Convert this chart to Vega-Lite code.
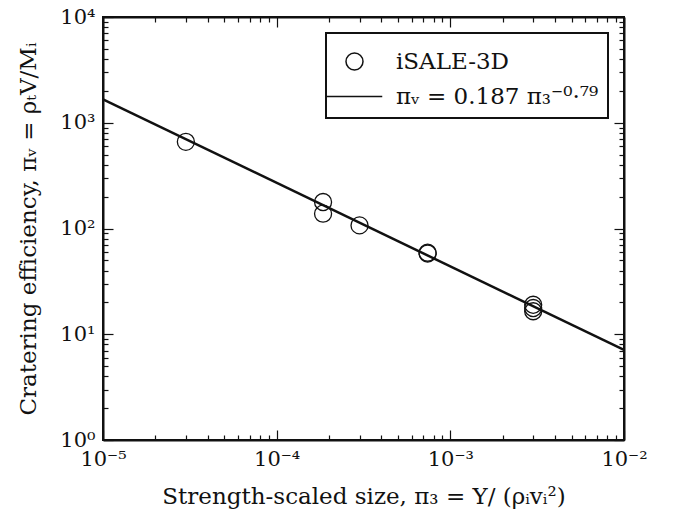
{
  "$schema": "https://vega.github.io/schema/vega-lite/v6.json",
  "width": 521,
  "height": 423,
  "autosize": "none",
  "padding": {"left": 103, "top": 17, "right": 49, "bottom": 80},
  "background": "white",
  "config": {
    "font": "DejaVu Serif",
    "view": {"stroke": "#111", "strokeWidth": 2},
    "legend": {"strokeWidth": 2, "strokeColor": "#111", "fillColor": "white", "cornerRadius": 0},
    "axis": {
      "domainColor": "#111", "domainWidth": 2, "tickColor": "#111", "tickWidth": 1.2,
      "labelFont": "DejaVu Serif", "labelFontSize": 21, "labelColor": "#111",
      "titleFont": "DejaVu Serif", "titleFontSize": 23, "titleFontWeight": "normal", "titleColor": "#111",
      "grid": false
    }
  },
  "datasets": {
    "pts": [
      {"x": 3e-5, "y": 660, "series": "iSALE-3D"},
      {"x": 1.85e-4, "y": 178, "series": "iSALE-3D"},
      {"x": 1.85e-4, "y": 138, "series": "iSALE-3D"},
      {"x": 3e-4, "y": 107, "series": "iSALE-3D"},
      {"x": 7.4e-4, "y": 59, "series": "iSALE-3D"},
      {"x": 7.4e-4, "y": 58, "series": "iSALE-3D"},
      {"x": 3e-3, "y": 19, "series": "iSALE-3D"},
      {"x": 3e-3, "y": 17.7, "series": "iSALE-3D"},
      {"x": 3e-3, "y": 16.5, "series": "iSALE-3D"}
    ],
    "fit": [
      {"x": 1e-5, "y": 1667, "series": "πᵥ = 0.187 π₃⁻⁰·⁷⁹"},
      {"x": 1e-2, "y": 7.11, "series": "πᵥ = 0.187 π₃⁻⁰·⁷⁹"}
    ]
  },
  "resolve": {"axis": {"x": "independent", "y": "independent"}},
  "layer": [
    {
      "data": {"name": "pts"},
      "mark": {"type": "point", "opacity": 0},
      "encoding": {
        "x": {"field": "x", "type": "quantitative",
          "scale": {"type": "log", "domain": [1e-5, 1e-2], "nice": false},
          "axis": {"orient": "bottom", "title": null, "labels": false, "domain": false, "tickSize": -5,
            "values": [2e-5,3e-5,4e-5,5e-5,6e-5,7e-5,8e-5,9e-5,2e-4,3e-4,4e-4,5e-4,6e-4,7e-4,8e-4,9e-4,2e-3,3e-3,4e-3,5e-3,6e-3,7e-3,8e-3,9e-3]}},
        "y": {"field": "y", "type": "quantitative",
          "scale": {"type": "log", "domain": [1, 10000], "nice": false},
          "axis": {"orient": "left", "title": null, "labels": false, "domain": false, "tickSize": -5,
            "values": [2,3,4,5,6,7,8,9,20,30,40,50,60,70,80,90,200,300,400,500,600,700,800,900,2000,3000,4000,5000,6000,7000,8000,9000]}}
      }
    },
    {
      "data": {"name": "pts"},
      "mark": {"type": "point", "opacity": 0},
      "encoding": {
        "x": {"field": "x", "type": "quantitative",
          "scale": {"type": "log", "domain": [1e-5, 1e-2], "nice": false},
          "axis": {"orient": "top", "title": null, "labels": false, "domain": false, "tickSize": -5,
            "values": [2e-5,3e-5,4e-5,5e-5,6e-5,7e-5,8e-5,9e-5,2e-4,3e-4,4e-4,5e-4,6e-4,7e-4,8e-4,9e-4,2e-3,3e-3,4e-3,5e-3,6e-3,7e-3,8e-3,9e-3]}},
        "y": {"field": "y", "type": "quantitative",
          "scale": {"type": "log", "domain": [1, 10000], "nice": false},
          "axis": {"orient": "right", "title": null, "labels": false, "domain": false, "tickSize": -5,
            "values": [2,3,4,5,6,7,8,9,20,30,40,50,60,70,80,90,200,300,400,500,600,700,800,900,2000,3000,4000,5000,6000,7000,8000,9000]}}
      }
    },
    {
      "data": {"name": "fit"},
      "mark": {"type": "line", "color": "#111", "strokeWidth": 2.5, "clip": true},
      "encoding": {
        "x": {"field": "x", "type": "quantitative",
          "scale": {"type": "log", "domain": [1e-5, 1e-2], "nice": false},
          "axis": {"orient": "top", "title": null, "labels": false, "tickSize": -10,
            "values": [1e-5, 1e-4, 1e-3, 1e-2]}},
        "y": {"field": "y", "type": "quantitative",
          "scale": {"type": "log", "domain": [1, 10000], "nice": false},
          "axis": {"orient": "right", "title": null, "labels": false, "tickSize": -10,
            "values": [1, 10, 100, 1000, 10000]}}
      }
    },
    {
      "data": {"name": "pts"},
      "mark": {"type": "point", "filled": false, "stroke": "#111", "strokeWidth": 1.3, "size": 1369, "opacity": 1},
      "encoding": {
        "x": {"field": "x", "type": "quantitative",
          "scale": {"type": "log", "domain": [1e-5, 1e-2], "nice": false},
          "axis": {"orient": "bottom", "title": "Strength-scaled size, π₃ = Y/ (ρᵢvᵢ²)", "titlePadding": 16,
            "values": [1e-5, 1e-4, 1e-3, 1e-2], "tickSize": -10,
            "labelExpr": "datum.value < 5e-5 ? '10⁻⁵' : datum.value < 5e-4 ? '10⁻⁴' : datum.value < 5e-3 ? '10⁻³' : '10⁻²'",
            "labelPadding": 18, "labelFlush": false}},
        "y": {"field": "y", "type": "quantitative",
          "scale": {"type": "log", "domain": [1, 10000], "nice": false},
          "axis": {"orient": "left", "title": "Cratering efficiency, πᵥ = ρₜV/Mᵢ", "titlePadding": 19,
            "values": [1, 10, 100, 1000, 10000], "tickSize": -10,
            "labelExpr": "datum.value < 5 ? '10⁰' : datum.value < 50 ? '10¹' : datum.value < 500 ? '10²' : datum.value < 5000 ? '10³' : '10⁴'",
            "labelPadding": 18, "labelFlush": false}},
        "shape": {"field": "series", "type": "nominal",
          "scale": {"domain": ["iSALE-3D", "πᵥ = 0.187 π₃⁻⁰·⁷⁹"],
            "range": ["M-0.46,0A0.46,0.46 0 1,1 0.46,0A0.46,0.46 0 1,1 -0.46,0Z", "M-1.5,0H1.5"]},
          "legend": {"title": null, "orient": "top-right", "offset": 16,
            "labelFont": "DejaVu Serif", "labelFontSize": 23, "labelColor": "#111",
            "symbolSize": 1369, "symbolStrokeColor": "#111", "symbolFillColor": "transparent",
            "symbolOffset": 0, "labelOffset": 22, "rowPadding": 3, "padding": 9,
            "strokeColor": "#111", "fillColor": "white", "labelLimit": 400,
            "encode": {"symbols": {"update": {"strokeWidth": {"signal": "datum.value === 'iSALE-3D' ? 1.4 : 2.5"}}}}}}
      }
    }
  ]
}
